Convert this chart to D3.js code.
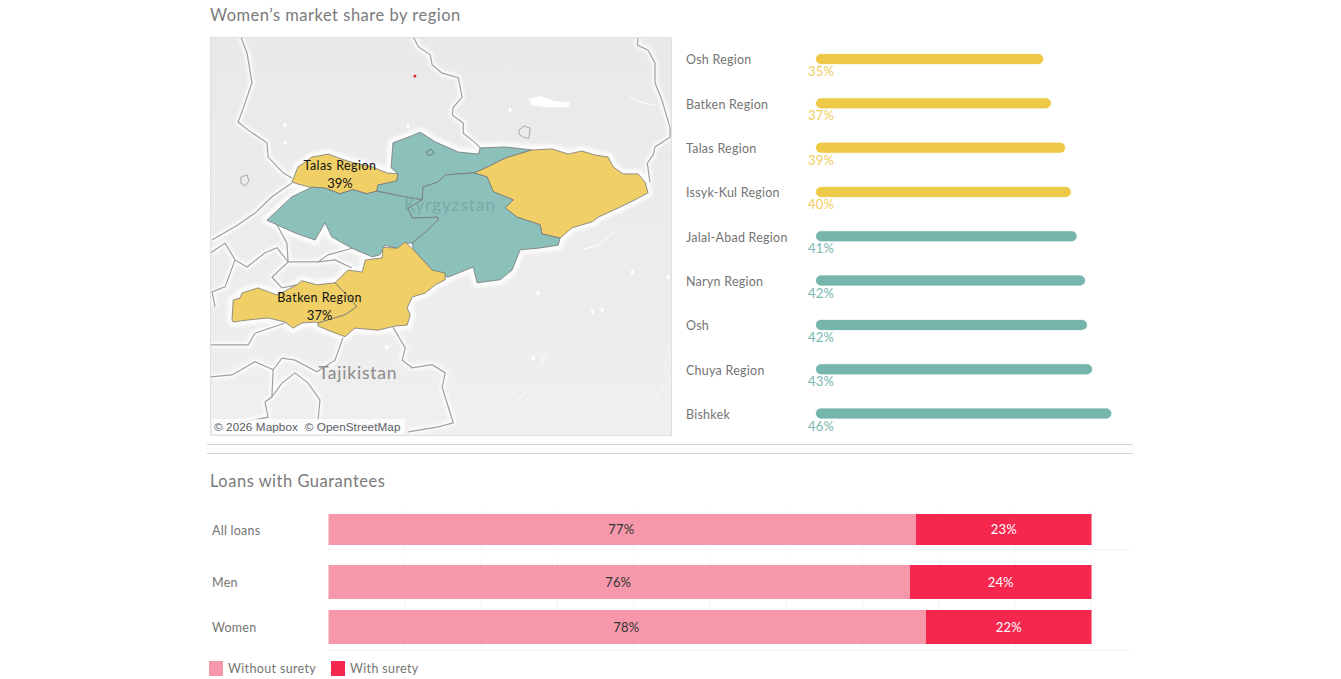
<!DOCTYPE html>
<html>
<head>
<meta charset="utf-8">
<script src="https://cdn.jsdelivr.net/npm/d3@7"></script>
<style>
  html, body { margin: 0; padding: 0; background: #fff; overflow: hidden; }
  text { font-family: Lato, "Open Sans", sans-serif; }
</style>
</head>
<body>
<svg id="chart" width="1341" height="679"></svg>
<script>
// ---- bar data (percent)
const regionNames = ["Osh Region", "Batken Region", "Talas Region", "Issyk-Kul Region", "Jalal-Abad Region", "Naryn Region", "Osh", "Chuya Region", "Bishkek"];
const regionShare = [35.4, 36.6, 38.8, 39.7, 40.6, 41.9, 42.2, 43.0, 46.0];

const loanGroups = ["All loans", "Men", "Women"];
const withoutSurety = [77.0, 76.2, 78.3];
const withSurety = [23.0, 23.8, 21.7];
const suretyLabels = ["Without surety", "With surety"];
const loanTicks = [0, 10, 20, 30, 40, 50, 60, 70, 80, 90, 100];

// ---- map outlines, [lon, lat]
const talasOutline = [[70.86,42.34],[71.02,42.64],[71.20,42.73],[71.38,42.83],[71.80,42.89],[72.16,42.79],[72.50,42.71],[72.94,42.64],[73.33,42.52],[73.62,42.50],[73.59,42.36],[73.10,42.28],[73.07,42.16],[72.81,42.11],[72.45,42.19],[72.11,42.11],[71.72,42.22],[71.33,42.24],[71.02,42.30]];
const chuyOutline = [[73.62,42.50],[73.44,42.62],[73.49,43.11],[73.88,43.22],[74.20,43.32],[74.59,43.13],[75.19,42.93],[75.71,42.89],[75.76,43.01],[76.41,43.03],[77.11,42.97],[76.41,42.81],[75.97,42.64],[75.60,42.52],[74.85,42.48],[74.66,42.34],[74.27,42.24],[74.25,41.99],[73.80,42.05],[73.07,42.16],[73.10,42.28],[73.59,42.36]];
const issykKulOutline = [[75.60,42.52],[75.97,42.64],[76.41,42.81],[77.11,42.97],[77.63,42.99],[78.05,42.89],[78.41,42.95],[78.75,42.87],[79.09,42.83],[79.22,42.64],[79.48,42.50],[79.87,42.50],[80.05,42.34],[80.13,42.13],[79.79,41.99],[79.35,41.83],[78.83,41.65],[78.68,41.56],[78.15,41.44],[77.84,41.24],[77.37,41.32],[77.32,41.50],[76.72,41.65],[76.41,41.83],[76.62,41.99],[76.10,42.15],[75.94,42.44]];
const narynOutline = [[75.60,42.52],[75.94,42.44],[76.10,42.15],[76.62,41.99],[76.41,41.83],[76.72,41.65],[77.32,41.50],[77.37,41.32],[77.84,41.24],[77.79,41.10],[77.27,41.04],[76.80,41.01],[76.59,40.61],[76.28,40.42],[75.68,40.36],[75.58,40.67],[74.92,40.47],[74.51,40.61],[74.02,41.01],[73.99,41.14],[74.33,41.36],[74.66,41.59],[74.66,41.65],[73.99,41.63],[73.88,41.83],[74.25,41.99],[74.27,42.24],[74.66,42.34],[74.85,42.48]];
const jalalAbadOutline = [[70.21,41.59],[70.86,42.05],[71.38,42.24],[71.72,42.22],[72.11,42.11],[72.45,42.19],[72.81,42.11],[73.07,42.16],[73.80,42.05],[74.25,41.99],[73.88,41.83],[73.99,41.63],[74.66,41.65],[74.66,41.59],[74.33,41.36],[73.99,41.14],[73.81,41.14],[73.73,41.01],[73.28,41.10],[73.15,40.91],[72.95,40.87],[72.42,41.04],[71.90,41.26],[71.72,41.54],[71.46,41.20],[70.94,41.34],[70.47,41.50]];
const batkenOutline = [[69.30,39.63],[69.33,40.02],[69.51,40.06],[69.56,40.16],[69.98,40.26],[70.47,40.12],[70.63,40.18],[70.99,40.32],[71.12,40.40],[71.51,40.32],[71.98,40.36],[72.42,40.02],[72.55,39.89],[72.24,39.73],[71.98,39.67],[71.54,39.57],[71.46,39.59],[71.12,39.57],[70.89,39.47],[70.68,39.59],[70.24,39.67],[69.72,39.63],[69.33,39.59]];
const oshOutline = [[71.98,40.36],[72.32,40.61],[72.69,40.57],[72.77,40.81],[73.21,40.85],[73.23,41.06],[73.60,41.04],[73.81,41.16],[74.02,41.01],[74.51,40.61],[74.85,40.55],[74.85,40.42],[74.59,40.32],[74.33,40.16],[73.99,40.08],[73.86,39.87],[73.94,39.73],[73.86,39.53],[73.54,39.51],[73.10,39.43],[72.50,39.47],[72.24,39.30],[71.93,39.39],[71.54,39.51],[71.54,39.57],[71.98,39.67],[72.24,39.73],[72.55,39.89],[72.42,40.02]];

const borderLines = [
  [[69.53,45.19],[69.69,44.88],[69.82,44.29],[69.64,43.89],[69.46,43.52],[69.72,43.36],[70.21,43.11],[70.24,42.83],[70.63,42.52],[70.86,42.42]],
  [[74.02,45.19],[74.15,45.00],[74.46,44.84],[74.51,44.64],[74.77,44.48],[75.19,44.39],[75.29,44.01],[75.06,43.81],[75.03,43.66],[75.32,43.50],[75.32,43.30],[75.63,43.11],[75.76,43.01]],
  [[79.87,45.19],[79.85,45.03],[80.13,44.93],[80.31,44.68],[80.31,44.29],[80.49,43.95],[80.70,43.42],[80.70,43.22],[80.31,43.03],[80.26,42.87],[80.11,42.71],[80.18,42.34]],
  [[70.86,42.32],[70.34,42.05],[69.90,41.73],[69.46,41.50],[68.78,41.20]],
  [[70.47,41.50],[70.73,41.14],[70.76,40.77],[70.34,40.47],[70.60,40.26],[70.99,40.32]],
  [[70.76,40.77],[71.54,40.77],[71.98,40.81],[72.42,40.65]],
  [[71.54,40.77],[71.80,40.91],[72.42,41.04]],
  [[68.75,40.95],[69.12,41.14],[69.38,40.81],[69.69,40.67],[70.16,40.95],[70.47,41.05],[70.76,40.77]],
  [[69.38,40.81],[69.12,40.28],[68.78,40.18],[68.86,39.89]],
  [[68.75,39.14],[69.72,39.14],[69.90,39.37],[70.68,39.57]],
  [[72.19,39.28],[71.98,38.84],[71.51,38.61],[70.94,38.84],[70.60,38.88],[70.37,38.65],[69.90,38.81],[69.30,38.55],[68.75,38.51]],
  [[70.37,38.65],[70.34,38.12],[70.16,38.02],[70.24,37.72],[69.46,37.61]],
  [[70.94,38.59],[71.28,38.39],[71.59,38.06],[71.54,37.67]],
  [[70.94,38.59],[70.60,38.39],[70.34,38.12]],
  [[73.49,39.49],[73.81,39.08],[73.73,38.84],[73.99,38.69],[74.51,38.75],[74.85,38.59],[74.77,38.31],[74.93,37.92],[75.06,37.61],[74.67,37.53],[73.89,37.43]]
];
const lakeOutlines = [
  [[69.53,42.44],[69.69,42.48],[69.74,42.36],[69.64,42.26],[69.53,42.32]],
  [[74.35,42.93],[74.48,42.99],[74.56,42.91],[74.43,42.85]],
  [[76.77,43.36],[76.90,43.44],[77.06,43.40],[77.03,43.20],[76.88,43.22],[76.77,43.28]]
];
const bigLake = [[77.01,43.97],[77.32,44.03],[77.71,43.93],[78.10,43.91],[78.05,43.81],[77.46,43.81],[77.11,43.85]];
const riverLines = [
  [[79.66,44.01],[79.92,43.91],[80.31,43.85]],
  [[78.41,41.01],[78.83,41.10],[79.32,41.40]],
  [[77.32,38.75],[77.53,39.04]],
  [[76.67,38.02],[77.01,38.25]],
  [[80.31,38.10],[80.70,38.41]]
];
const whiteSpots = [[79.72,40.57],[80.65,40.47],[78.68,39.79],[78.93,39.83],[73.33,39.10],[77.27,40.16],[77.14,38.88],[70.68,43.46],[70.68,43.11],[76.54,43.76],[73.88,43.44]];
const redDot = [74.06, 44.42];

const mapRegions = [
  { name: "Talas Region", outline: talasOutline, label: [72.11, 42.66] },
  { name: "Chuya Region", outline: chuyOutline },
  { name: "Issyk-Kul Region", outline: issykKulOutline },
  { name: "Naryn Region", outline: narynOutline },
  { name: "Jalal-Abad Region", outline: jalalAbadOutline },
  { name: "Batken Region", outline: batkenOutline, label: [71.58, 40.07] },
  { name: "Osh Region", outline: oshOutline }
];

const YELLOW = "#eec948", TEAL = "#76b5ac", GREY_TEXT = "#747474";

const svg = d3.select("#chart");
const pct = v => d3.format(".0f")(v) + "%";
const shareOf = name => regionShare[regionNames.indexOf(name)];
const barColor = d3.scaleThreshold().domain([40.5]).range([YELLOW, TEAL]);
const mapColor = d3.scaleThreshold().domain([40.5]).range(["#f0d066", "#8cc0bb"]);

function title(txt, y) {
  svg.append("text").attr("x", 210).attr("y", y).attr("dy", "0.35em")
    .attr("font-size", 16.5).attr("letter-spacing", 0.5).attr("fill", "#7a7a7a").text(txt);
}

title("Women\u2019s market share by region", 15);
title("Loans with Guarantees", 481);

drawMap();
drawShareBars();
drawSeparators();
drawLoans();

function drawMap() {
  const xMap = d3.scaleLinear().domain([69.3, 80.18]).range([232, 650]);
  const yMap = d3.scaleLinear().domain([45.19, 37.35]).range([37, 436]);
  const line = d3.line().x(d => xMap(d[0])).y(d => yMap(d[1]));
  const ring = d => line(d) + "Z";

  const defs = svg.append("defs");
  defs.append("clipPath").attr("id", "map-clip").append("rect")
    .attr("x", 210.5).attr("y", 37.5).attr("width", 461).attr("height", 398);
  defs.append("filter").attr("id", "halo").attr("x", "-20%").attr("y", "-20%").attr("width", "140%").attr("height", "140%")
    .append("feGaussianBlur").attr("stdDeviation", 1.8);

  const grad = defs.append("linearGradient").attr("id", "land").attr("x1", 0).attr("y1", 0).attr("x2", 0).attr("y2", 1);
  grad.append("stop").attr("offset", "0%").attr("stop-color", "#e9e9e9");
  grad.append("stop").attr("offset", "100%").attr("stop-color", "#efefef");

  const g = svg.append("g").attr("clip-path", "url(#map-clip)");
  g.append("rect").attr("x", 210).attr("y", 37).attr("width", 462).attr("height", 399).attr("fill", "url(#land)");

  // white glow under every border
  const halo = g.append("g").attr("filter", "url(#halo)").attr("fill", "none")
    .attr("stroke", "#fff").attr("stroke-opacity", 0.8).attr("stroke-linejoin", "round");
  halo.selectAll("path.b").data(borderLines).join("path").attr("class", "b").attr("d", line).attr("stroke-width", 6);
  halo.selectAll("path.r").data(mapRegions).join("path").attr("class", "r").attr("d", d => ring(d.outline)).attr("stroke-width", 10);

  g.selectAll("path.river").data(riverLines).join("path").attr("class", "river")
    .attr("d", line).attr("fill", "none").attr("stroke", "#fff").attr("stroke-width", 1);
  g.append("path").attr("d", ring(bigLake)).attr("fill", "#fff");
  g.selectAll("ellipse.spot").data(whiteSpots).join("ellipse").attr("class", "spot")
    .attr("cx", d => xMap(d[0])).attr("cy", d => yMap(d[1])).attr("rx", 1.6).attr("ry", 2.2).attr("fill", "#fff");

  g.selectAll("path.border").data(borderLines).join("path").attr("class", "border")
    .attr("d", line).attr("fill", "none").attr("stroke", "#a0a0a0").attr("stroke-width", 1.2);
  g.selectAll("path.lake").data(lakeOutlines).join("path").attr("class", "lake")
    .attr("d", ring).attr("fill", "none").attr("stroke", "#999").attr("stroke-width", 0.8);

  g.selectAll("path.region").data(mapRegions).join("path").attr("class", "region")
    .attr("d", d => ring(d.outline))
    .attr("fill", d => mapColor(shareOf(d.name)))
    .attr("stroke", "#777").attr("stroke-width", 0.8).attr("stroke-linejoin", "round");
  g.append("path").attr("d", ring(lakeOutlines[1])).attr("fill", "#8cc0bb").attr("stroke", "#666").attr("stroke-width", 0.8);

  g.append("circle").attr("cx", xMap(redDot[0])).attr("cy", yMap(redDot[1])).attr("r", 1.4).attr("fill", "#e8202a");

  g.append("text").attr("x", 450).attr("y", 205).attr("dy", "0.35em").attr("text-anchor", "middle")
    .attr("font-size", 17).attr("letter-spacing", 1).attr("fill", "#79aaa6").text("Kyrgyzstan");
  g.append("text").attr("x", 358).attr("y", 373).attr("dy", "0.35em").attr("text-anchor", "middle")
    .attr("font-size", 17.5).attr("letter-spacing", 0.8).attr("fill", "#8a8a8a").text("Tajikistan");

  const labelled = mapRegions.filter(d => d.label);
  g.selectAll("text.reg").data(labelled).join("text").attr("class", "reg")
    .attr("x", d => xMap(d.label[0])).attr("y", d => yMap(d.label[1])).attr("dy", "0.35em")
    .attr("text-anchor", "middle").attr("font-size", 12.5).attr("letter-spacing", 0.45).attr("fill", "#111").text(d => d.name);
  g.selectAll("text.val").data(labelled).join("text").attr("class", "val")
    .attr("x", d => xMap(d.label[0])).attr("y", d => yMap(d.label[1]) + 18).attr("dy", "0.35em")
    .attr("text-anchor", "middle").attr("font-size", 13).attr("fill", "#111").text(d => pct(shareOf(d.name)));

  g.append("rect").attr("x", 212).attr("y", 419).attr("width", 193).attr("height", 15).attr("fill", "#fff").attr("fill-opacity", 0.75);
  g.append("text").attr("x", 214).attr("y", 427).attr("dy", "0.35em")
    .attr("font-size", 11.7).attr("letter-spacing", 0.1).attr("fill", "#5a6068").style("font-family", "'Liberation Sans', Arial, sans-serif")
    .attr("xml:space", "preserve").text("\u00a9 2026 Mapbox  \u00a9 OpenStreetMap");

  svg.append("rect").attr("x", 210.5).attr("y", 37.5).attr("width", 461).attr("height", 398)
    .attr("fill", "none").attr("stroke", "#e0e0e0");
}

function drawShareBars() {
  const x = d3.scaleLinear().domain([0, 46]).range([816, 1111.3]);
  const y = d3.scalePoint().domain(regionNames).range([59, 413.5]);
  const rows = svg.append("g").selectAll("g").data(regionNames).join("g");

  rows.append("text").attr("x", 686).attr("y", d => y(d) + 1).attr("dy", "0.35em")
    .attr("font-size", 12.5).attr("letter-spacing", 0.25).attr("fill", GREY_TEXT).text(d => d);
  rows.append("rect").attr("x", x(0)).attr("y", d => y(d) - 5)
    .attr("width", (d, i) => x(regionShare[i]) - x(0)).attr("height", 10).attr("rx", 5)
    .attr("fill", (d, i) => barColor(regionShare[i]))
    .attr("stroke", (d, i) => barColor(regionShare[i])).attr("stroke-opacity", 0.25);
  rows.append("text").attr("x", 808).attr("y", d => y(d) + 12.5).attr("dy", "0.35em")
    .attr("font-size", 13).attr("letter-spacing", 0.2).attr("fill", (d, i) => regionShare[i] > 40.5 ? "#76b7ae" : "#f0cd5c")
    .text((d, i) => pct(regionShare[i]));
}

function drawSeparators() {
  svg.append("g").selectAll("line").data(["a", "b"]).join("line")
    .attr("x1", 207).attr("x2", 1133)
    .attr("y1", (d, i) => 444.5 + i * 9).attr("y2", (d, i) => 444.5 + i * 9)
    .attr("stroke", "#d4d4d4");
}

function drawLoans() {
  const x = d3.scaleLinear().domain([0, 100]).range([328.5, 1091.5]);
  // the original dashboard has the first row in its own pane, so rows are not evenly spaced
  const rowTop = d3.scaleOrdinal().domain(loanGroups).range([514, 565, 610]);
  const rowHeight = d3.scaleOrdinal().domain(loanGroups).range([31, 34, 34]);
  const panes = [[509, 549.5], [558, 650.5]];
  const colors = d3.scaleOrdinal().domain(suretyLabels).range(["#f698a9", "#f5274f"]);

  const grid = svg.append("g").attr("stroke", "#f3f3f3");
  panes.forEach(p => {
    grid.append("g").selectAll("line").data(loanTicks.slice(1)).join("line")
      .attr("x1", d => x(d)).attr("x2", d => x(d)).attr("y1", p[0]).attr("y2", p[1]);
    grid.append("line").attr("x1", 328).attr("x2", 1130).attr("y1", p[1]).attr("y2", p[1]);
  });

  const rows = svg.append("g").selectAll("g").data(loanGroups).join("g");
  rows.append("text").attr("x", 212).attr("y", d => rowTop(d) + rowHeight(d) / 2 + 1).attr("dy", "0.35em")
    .attr("font-size", 12.5).attr("letter-spacing", 0.25).attr("fill", GREY_TEXT).text(d => d);
  rows.append("rect").attr("x", x(0)).attr("y", d => rowTop(d))
    .attr("width", (d, i) => x(withoutSurety[i]) - x(0)).attr("height", d => rowHeight(d))
    .attr("fill", colors(suretyLabels[0]));
  rows.append("rect").attr("x", (d, i) => x(withoutSurety[i])).attr("y", d => rowTop(d))
    .attr("width", (d, i) => x(100) - x(withoutSurety[i])).attr("height", d => rowHeight(d))
    .attr("fill", colors(suretyLabels[1]));
  rows.append("text").attr("x", (d, i) => x(withoutSurety[i] / 2) - 1).attr("y", d => rowTop(d) + rowHeight(d) / 2)
    .attr("dy", "0.35em").attr("text-anchor", "middle").attr("font-size", 13).attr("letter-spacing", 0.2).attr("fill", "#333")
    .text((d, i) => pct(withoutSurety[i]));
  rows.append("text").attr("x", (d, i) => x(100 - withSurety[i] / 2)).attr("y", d => rowTop(d) + rowHeight(d) / 2)
    .attr("dy", "0.35em").attr("text-anchor", "middle").attr("font-size", 13).attr("letter-spacing", 0.2).attr("fill", "#fff")
    .text((d, i) => pct(withSurety[i]));

  const legend = svg.append("g").selectAll("g").data(suretyLabels).join("g")
    .attr("transform", (d, i) => `translate(${i ? 331 : 209},661)`);
  legend.append("rect").attr("width", 14).attr("height", 15).attr("fill", d => colors(d));
  legend.append("text").attr("x", 19).attr("y", 7.5).attr("dy", "0.35em")
    .attr("font-size", 12.5).attr("letter-spacing", 0.35).attr("fill", GREY_TEXT).text(d => d);
}
</script>
</body>
</html>
